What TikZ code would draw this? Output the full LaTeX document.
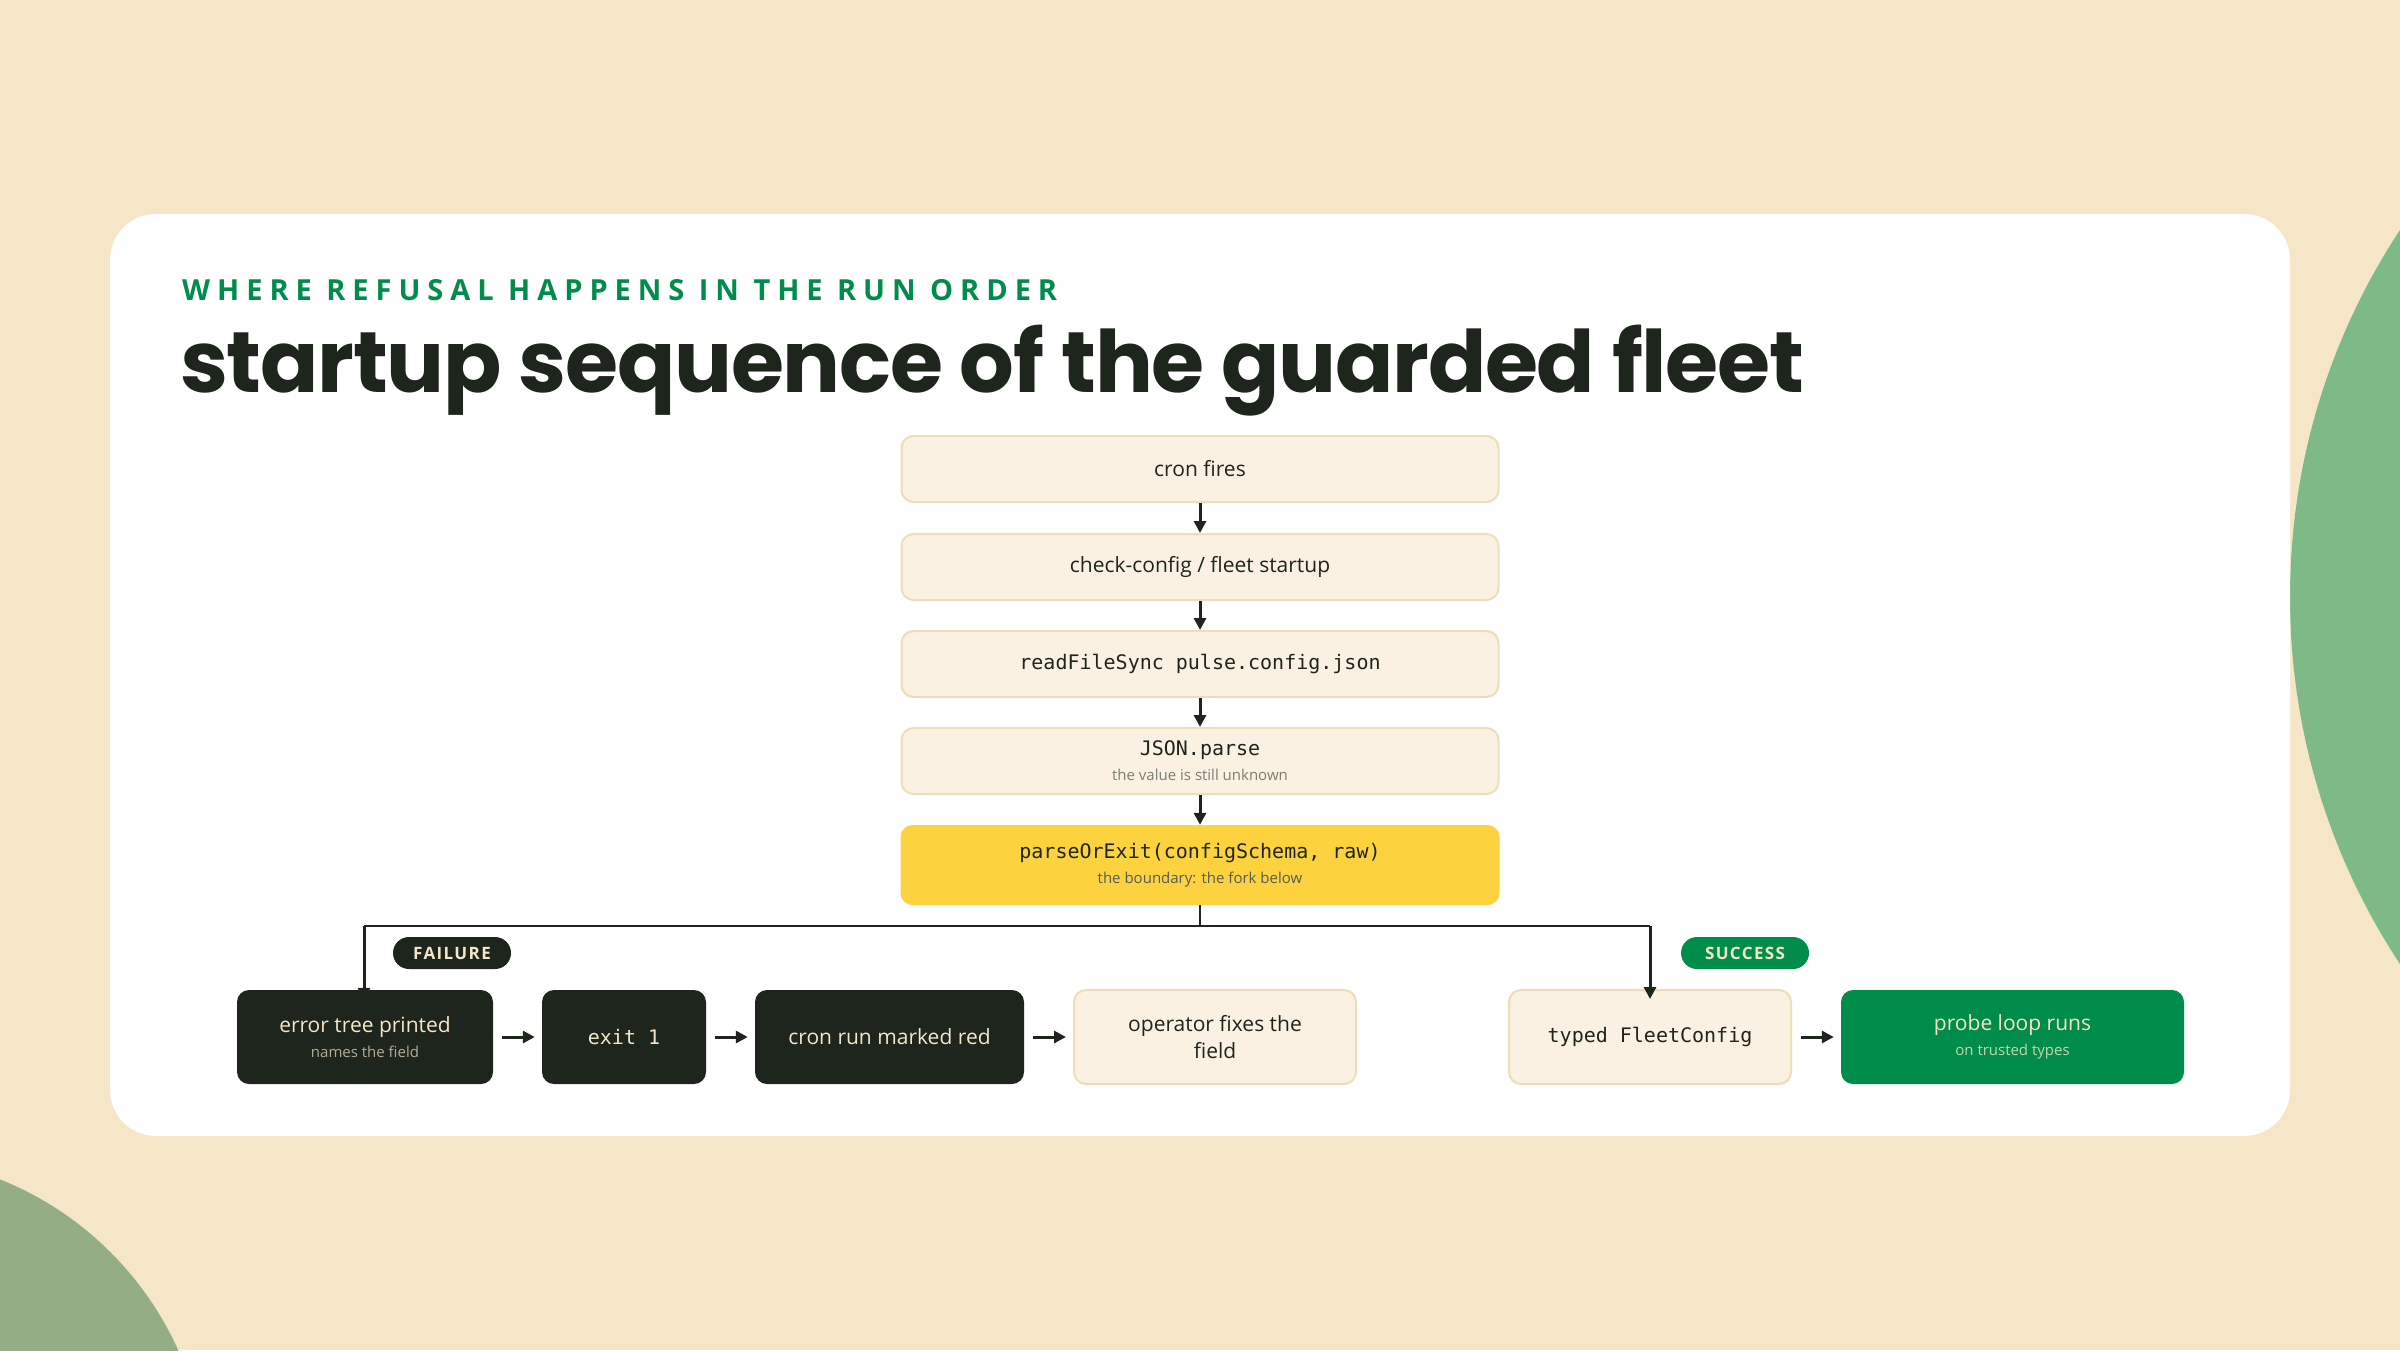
\documentclass[tikz,border=0pt]{standalone}
\usepackage{fontspec}
\setmainfont{Open Sans}
\newfontfamily\titlef{Poppins}
\newfontfamily\monof{DejaVu Sans Mono}
\usetikzlibrary{arrows.meta}
\definecolor{bg}{HTML}{F5E6C8}
\definecolor{boxf}{HTML}{FAF1E2}
\definecolor{boxd}{HTML}{EDDDBA}
\definecolor{dark}{HTML}{1D251D}
\definecolor{grn}{HTML}{008C4A}
\definecolor{yel}{HTML}{FDD23F}
\definecolor{cream}{HTML}{F5E6C8}
\definecolor{subg}{HTML}{7A7F72}
\newcommand\mysubf{\fontsize{15}{20}\selectfont}
\tikzset{
 box/.style={draw=boxd,line width=2pt,fill=boxf,rounded corners=12pt,align=center,text=dark,font=\fontsize{21}{27}\selectfont},
 dbox/.style={fill=dark,rounded corners=12pt,align=center,text=cream,font=\fontsize{21}{27}\selectfont},
 gbox/.style={fill=grn,rounded corners=12pt,align=center,text=cream,font=\fontsize{21}{27}\selectfont},
 ybox/.style={fill=yel,rounded corners=12pt,align=center,text=dark,font=\fontsize{21}{27}\selectfont},
 pill/.style={rounded corners=16pt,inner sep=0pt,text=cream,font=\bfseries\fontsize{17}{17}\selectfont},
 arr/.style={draw=dark,line width=3pt,-{Triangle[length=12pt,width=12pt]}},
 harr/.style={arr,shorten <=9pt,shorten >=7pt},
 ln/.style={draw=dark,line width=2.5pt}
}
\begin{document}
\begin{tikzpicture}[x=1pt,y=-1pt]
\fill[bg] (0,0) rectangle (2400,1350);
\useasboundingbox (0,0) rectangle (2400,1350);
\begin{scope}
\clip (0,0) rectangle (2400,1350);
\fill[color={rgb,255:red,125;green,186;blue,136}] (2957,597) circle (667);
\fill[color={rgb,255:red,148;green,173;blue,132}] (-122,1485) circle (329);
\end{scope}
\fill[white,rounded corners=46pt] (110,214) rectangle (2290,1136);
\node[anchor=base west,text=grn,font=\bfseries\fontsize{29}{29}\selectfont,inner sep=0pt] (kick) at (182,300) {\addfontfeature{LetterSpace=24}WHERE REFUSAL HAPPENS IN THE RUN ORDER};
\node[anchor=base west,text=dark,font=\titlef\bfseries\fontsize{86}{86}\selectfont,inner sep=0pt] (title) at (180,392) {\addfontfeature{LetterSpace=-1.5}startup sequence of the guarded fleet};
\node[box,minimum width=597pt,minimum height=66pt] (a) at (1200,469) {cron fires};
\node[box,minimum width=597pt,minimum height=66pt] (b) at (1200,567) {check-config / fleet startup};
\node[box,minimum width=597pt,minimum height=66pt,font=\monof\fontsize{20}{26}\selectfont] (c) at (1200,664) {readFileSync pulse.config.json};
\node[box,minimum width=597pt,minimum height=66pt] (d) at (1200,761) {{\monof\fontsize{20}{24}\selectfont JSON.parse}\\[-2pt]{\mysubf\color{subg}the value is still unknown}};
\node[ybox,minimum width=599pt,minimum height=80pt] (e) at (1200,865) {{\monof\fontsize{20}{24}\selectfont parseOrExit(configSchema, raw)}\\[-2pt]{\mysubf\color{dark!75}the boundary: the fork below}};
\draw[arr] (a) -- (b);
\draw[arr] (b) -- (c);
\draw[arr] (c) -- (d);
\draw[arr] (d) -- (e);
\coordinate (f) at (1200,926);
\coordinate (fl) at (364,926);
\coordinate (fr) at (1650,926);
\node[dbox,minimum width=256pt,minimum height=94pt] (n1) at (365,1037) {error tree printed\\[-2pt]{\mysubf\color{cream!70!dark}names the field}};
\node[dbox,minimum width=164pt,minimum height=94pt,font=\monof\fontsize{20}{26}\selectfont] (n2) at (624,1037) {exit 1};
\node[dbox,minimum width=269pt,minimum height=94pt] (n3) at (889.5,1037) {cron run marked red};
\node[box,minimum width=282pt,minimum height=94pt] (n4) at (1215,1037) {operator fixes the\\field};
\node[box,minimum width=282pt,minimum height=94pt,font=\monof\fontsize{20}{26}\selectfont] (n5) at (1650,1037) {typed FleetConfig};
\node[gbox,minimum width=343pt,minimum height=94pt] (n6) at (2012.5,1037) {probe loop runs\\[-2pt]{\mysubf\color{cream!80!grn}on trusted types}};
\draw[ln] (e.south) -- (f);
\draw[ln] (fl) -- (fr);
\draw[arr] (fl) -- ([yshift=-10pt]n1.north -| fl);
\draw[arr] (fr) -- ([yshift=-10pt]n5.north);
\draw[harr] (n1) -- (n2);
\draw[harr] (n2) -- (n3);
\draw[harr] (n3) -- (n4);
\draw[harr] (n5) -- (n6);
\node[pill,fill=dark,minimum width=118pt,minimum height=32pt] (pf) at (452,953) {\addfontfeature{LetterSpace=8}FAILURE};
\node[pill,fill=grn,minimum width=128pt,minimum height=32pt] (ps) at (1745,953) {\addfontfeature{LetterSpace=8}SUCCESS};
\end{tikzpicture}
\end{document}
